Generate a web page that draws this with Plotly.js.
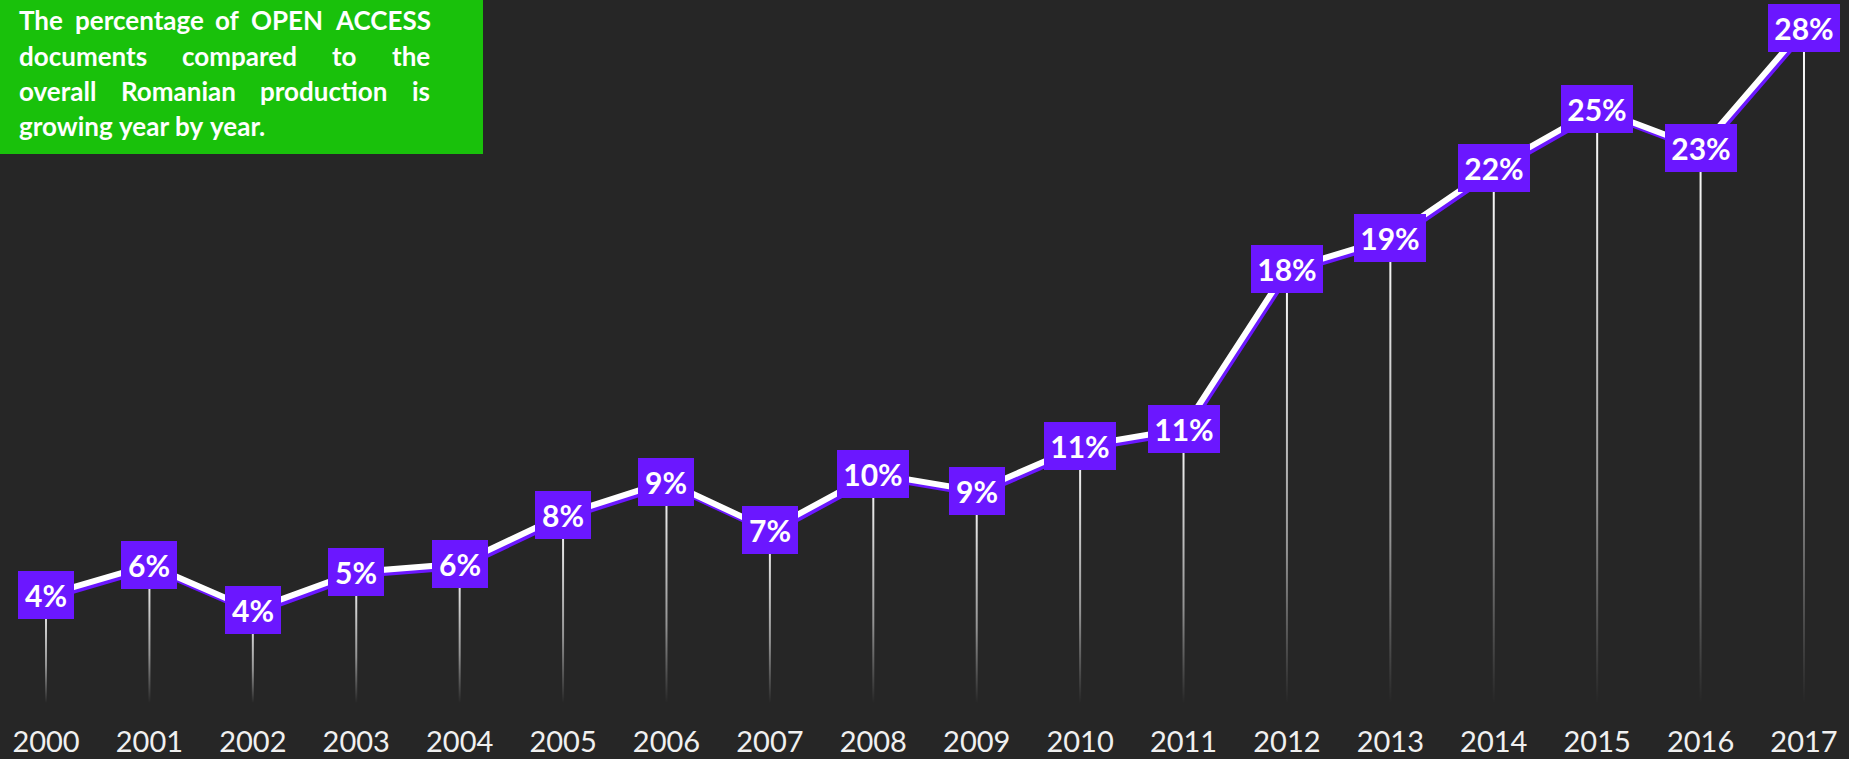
<!DOCTYPE html>
<html>
<head>
<meta charset="utf-8">
<script src="https://cdn.plot.ly/plotly-3.0.1.min.js"></script>
<style>html,body{margin:0;padding:0;background:#262626;}#chart{width:1849px;height:759px;}</style>
</head>
<body>
<div id="chart"></div>
<script>
// ---- data ----
const years = ['2000','2001','2002','2003','2004','2005','2006','2007','2008','2009','2010','2011','2012','2013','2014','2015','2016','2017'];
const values = [4.48, 5.73, 3.87, 5.44, 5.78, 7.81, 9.19, 7.19, 9.52, 8.80, 10.66, 11.38, 17.99, 19.29, 22.22, 24.65, 23.03, 28.01];
const labels = ['4%','6%','4%','5%','6%','8%','9%','7%','10%','9%','11%','11%','18%','19%','22%','25%','23%','28%'];
const noteLines = [
  ['The', 'percentage', 'of', 'OPEN', 'ACCESS'],
  ['documents', 'compared', 'to', 'the'],
  ['overall', 'Romanian', 'production', 'is'],
  ['growing', 'year', 'by', 'year.']
];

// ---- geometry / style ----
const W = 1849, H = 759, B = 56, PH = H - B;
const PXX = 103.41, X0 = -0.445, X1 = X0 + W / PXX;
const PXY = 24.1, Y1 = PH / PXY;
const PURPLE = '#6B17FF', GREEN = '#19C10B', BG = '#262626';
const idx = years.map((_, i) => i);

const traces = [];
// drop lines with vertical fade
const hw = 1 / PXX;
idx.forEach((i) => {
  const v = values[i];
  traces.push({
    type: 'scatter', mode: 'none', xaxis: 'x2', yaxis: 'y2',
    x: [i - hw, i + hw, i + hw, i - hw, i - hw],
    y: [0, 0, v, v, 0],
    fill: 'toself',
    fillgradient: {
      type: 'vertical', start: 0, stop: v,
      colorscale: [[0, 'rgba(255,255,255,0)'], [0.35, 'rgba(255,255,255,0.5)'], [1, 'rgba(255,255,255,1)']]
    },
    hoverinfo: 'skip', showlegend: false
  });
});
// shadow line (shifted axes)
traces.push({
  type: 'scatter', mode: 'lines', x: idx, y: values, xaxis: 'x', yaxis: 'y',
  line: {color: PURPLE, width: 6}, hoverinfo: 'skip', showlegend: false
});
// main white line
traces.push({
  type: 'scatter', mode: 'lines', x: idx, y: values, xaxis: 'x2', yaxis: 'y2',
  line: {color: '#ffffff', width: 6}, hoverinfo: 'skip', showlegend: false
});

const annotations = [];
idx.forEach((i) => {
  annotations.push({
    x: i, y: values[i], xref: 'x2', yref: 'y2', text: labels[i], showarrow: false,
    xanchor: 'center', yanchor: 'middle',
    bgcolor: PURPLE, borderpad: 0, borderwidth: 0,
    width: labels[i].length > 2 ? 72 : 56, height: 48,
    font: {family: 'Lato, sans-serif', size: 30, color: '#ffffff', weight: 700}
  });
});

// justified note text (last line left-aligned)
const NOTE_SIZE = 26, NL = 17, NR = 428;
const ctx = document.createElement('canvas').getContext('2d');
ctx.font = '700 ' + NOTE_SIZE + 'px Lato';
const spaceW = ctx.measureText(' ').width;
const lineY = [20, 56, 91, 126];
noteLines.forEach((line, li) => {
  const widths = line.map(w => ctx.measureText(w).width);
  const total = widths.reduce((a, b) => a + b, 0);
  const last = li === noteLines.length - 1;
  const gap = last ? spaceW : (NR - NL - total) / (line.length - 1);
  let xpos = NL;
  line.forEach((word, wi) => {
    annotations.push({
      x: xpos / W, y: 1 - lineY[li] / PH, xref: 'paper', yref: 'paper',
      text: word, showarrow: false, xanchor: 'left', yanchor: 'middle',
      font: {family: 'Lato, sans-serif', size: NOTE_SIZE, color: '#ffffff', weight: 700}
    });
    xpos += widths[wi] + gap;
  });
});

const layout = {
  width: W, height: H,
  margin: {l: 0, r: 0, t: 0, b: B, pad: 0},
  paper_bgcolor: BG, plot_bgcolor: BG,
  showlegend: false,
  xaxis: {range: [X0 - 2 / PXX, X1 - 2 / PXX], visible: false, fixedrange: true},
  yaxis: {range: [3 / PXY, Y1 + 3 / PXY], visible: false, fixedrange: true},
  xaxis2: {
    overlaying: 'x', anchor: 'y2', side: 'bottom', range: [X0, X1], fixedrange: true,
    tickmode: 'array', tickvals: idx, ticktext: years,
    showgrid: false, zeroline: false, showline: false, ticks: '',
    ticklabelstandoff: 19,
    tickfont: {family: 'Lato, sans-serif', size: 29, color: '#f0f0f0'}
  },
  yaxis2: {overlaying: 'y', anchor: 'x2', range: [0, Y1], visible: false, fixedrange: true},
  shapes: [{
    type: 'rect', xref: 'paper', yref: 'paper', x0: 0, x1: 483 / W, y0: 1 - 154 / PH, y1: 1,
    fillcolor: GREEN, line: {width: 0}, layer: 'above'
  }],
  annotations: annotations
};

Plotly.newPlot('chart', traces, layout, {displayModeBar: false, staticPlot: true});
</script>
</body>
</html>
